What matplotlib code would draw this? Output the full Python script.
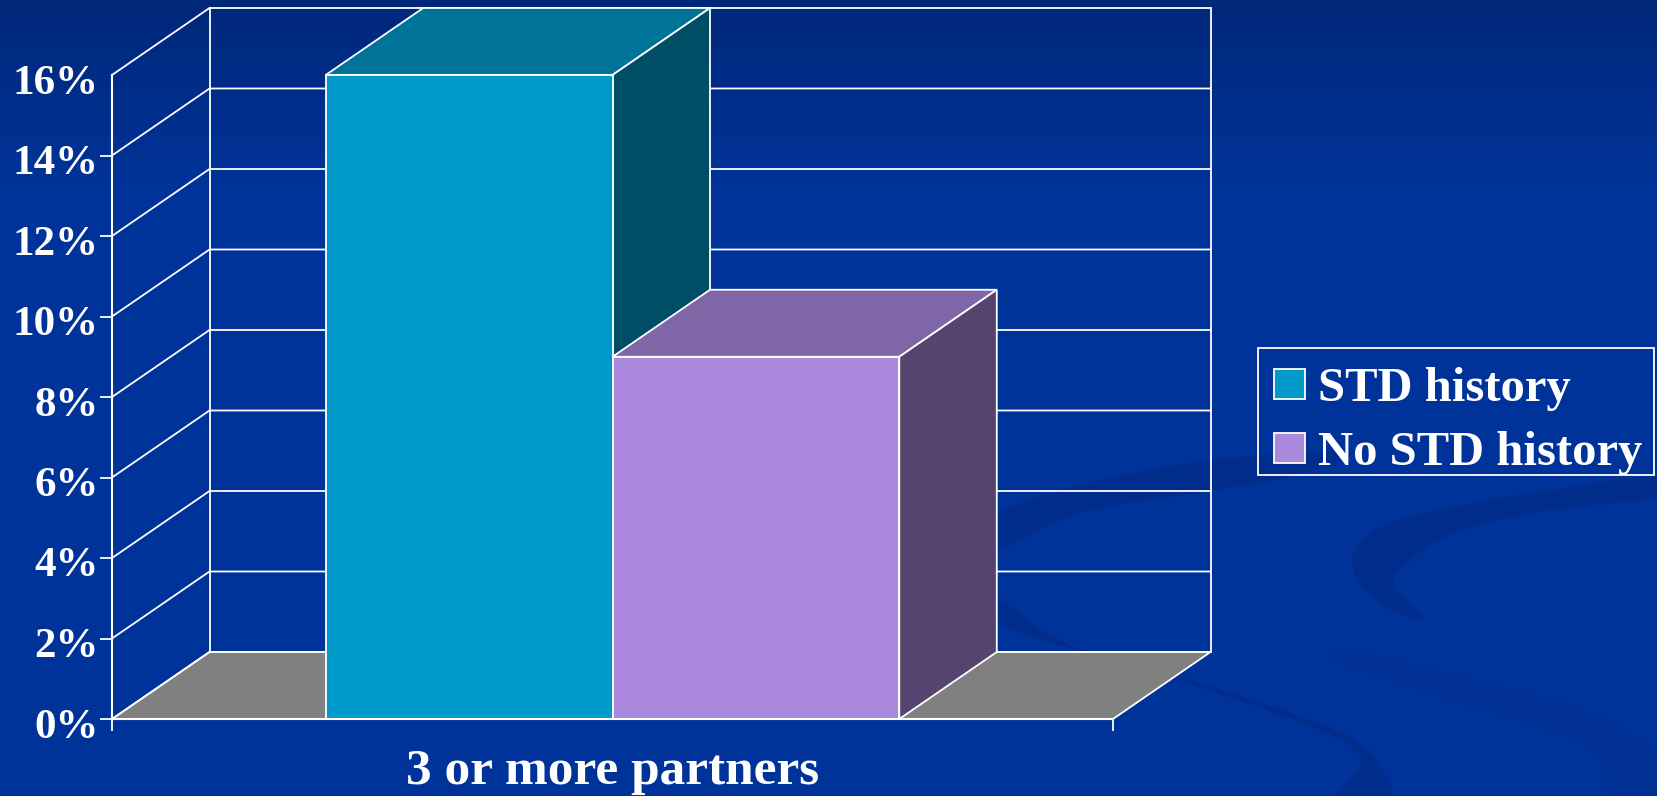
import matplotlib
matplotlib.use("Agg")
import matplotlib.pyplot as plt
import numpy as np
from matplotlib.patches import Polygon, Patch, Rectangle
from matplotlib.colors import to_rgb
from matplotlib.transforms import ScaledTranslation

plt.rcParams['font.family'] = ['Liberation Serif', 'DejaVu Serif']
plt.rcParams['font.weight'] = 'bold'

category = "3 or more partners"
series = ["STD history", "No STD history"]
values = [16.0, 9.0]
y_ticks = [0, 2, 4, 6, 8, 10, 12, 14, 16]

front_colors = ["#0099CC", "#AA88DD"]
top_colors = ["#007399", "#8066A6"]
side_colors = ["#004D66", "#554470"]

W, H = 1658, 796
bar_width = 0.2865
depth_x = 97.5 / 1001
depth_y = 67 / 40.25
line_w = 1.3


def smooth(points, n=14):
    # catmull-rom through the waypoints, closed
    p = np.array(points, dtype=float)
    out = []
    for i in range(len(p)):
        p0, p1, p2, p3 = p[i - 1], p[i], p[(i + 1) % len(p)], p[(i + 2) % len(p)]
        for t in np.linspace(0, 1, n, endpoint=False):
            out.append(0.5 * (2 * p1 + (p2 - p0) * t + (2 * p0 - 5 * p1 + 4 * p2 - p3) * t ** 2
                              + (3 * p1 - p0 - 3 * p2 + p3) * t ** 3))
    return np.array(out)


fig = plt.figure(figsize=(W / 100, H / 100), dpi=100)

# background slide: gradient and the faint swooshes
bg = fig.add_axes([0, 0, 1, 1], zorder=-1)
bg.set_xlim(0, W)
bg.set_ylim(H, 0)
bg.axis("off")
top_c, mid_c = np.array(to_rgb("#00287A")), np.array(to_rgb("#003399"))
f = np.interp(np.arange(H), [0, 190], [0, 1])[:, None, None]
grad = top_c[None, None, :] * (1 - f) + mid_c[None, None, :] * f
bg.imshow(grad, extent=(0, W, H, 0), aspect="auto", zorder=0)

swoosh_a = [(1658, 475), (1520, 495), (1420, 514), (1370, 533), (1352, 563), (1375, 600), (1423, 620),
            (1397, 590), (1400, 570), (1450, 535), (1540, 512), (1658, 498), (1680, 485)]
swoosh_b = [(1350, 452), (1210, 460), (1080, 485), (997, 513), (950, 545), (950, 570), (1000, 550),
            (1080, 513), (1210, 491), (1293, 476)]
swoosh_c = [(1000, 600), (1047, 633), (1090, 652), (1177, 676), (1283, 710), (1350, 737), (1380, 765),
            (1390, 800), (1335, 800), (1360, 765), (1345, 743), (1283, 716), (1177, 680), (1090, 654),
            (1047, 641), (1000, 623), (960, 590)]
swoosh_d = [(1330, 655), (1357, 652), (1450, 673), (1583, 710), (1658, 753), (1680, 800), (1613, 800),
            (1603, 763), (1550, 730), (1417, 690), (1345, 664)]
for pts, c in [(swoosh_a, "#002D8C"), (swoosh_b, "#002D8C"), (swoosh_c, "#002D8C"), (swoosh_d, "#003093")]:
    bg.add_patch(Polygon(smooth(pts), closed=True, fc=c, ec="none", zorder=1))
bg.set_xlim(0, W)
bg.set_ylim(H, 0)

# chart axes, front plane of the 3d box
ax = fig.add_axes([112 / W, (H - 719) / H, 1001 / W, 644 / H])
ax.patch.set_alpha(0)
ax.set_xlim(-0.5, 0.5)
ax.set_ylim(0, 16)
x0, x1 = ax.get_xlim()
ymax = y_ticks[-1]

# floor
ax.add_patch(Polygon([(x0, 0), (x1, 0), (x1 + depth_x, depth_y), (x0 + depth_x, depth_y)],
                     closed=True, fc="#808080", ec="white", lw=line_w, zorder=1, clip_on=False))

# walls and gridlines
for v in y_ticks:
    ax.plot([x0, x0 + depth_x, x1 + depth_x], [v, v + depth_y, v + depth_y],
            color="white", lw=line_w, zorder=2, clip_on=False)
ax.plot([x0 + depth_x] * 2, [depth_y, ymax + depth_y], color="white", lw=line_w, zorder=2, clip_on=False)
ax.plot([x1 + depth_x] * 2, [depth_y, ymax + depth_y], color="white", lw=line_w, zorder=2, clip_on=False)

# bars, front faces from ax.bar and the top/side faces offset by the depth
lefts = [-bar_width, 0]
for i, (name, val) in enumerate(zip(series, values)):
    l, r = lefts[i], lefts[i] + bar_width
    z = 3 + i
    ax.bar(l, val, width=bar_width, align="edge", color=front_colors[i], edgecolor="white",
           linewidth=line_w, zorder=z + 0.2, clip_on=False)
    ax.add_patch(Polygon([(l, val), (r, val), (r + depth_x, val + depth_y), (l + depth_x, val + depth_y)],
                         closed=True, fc=top_colors[i], ec="white", lw=line_w, zorder=z, clip_on=False))
    ax.add_patch(Polygon([(r, 0), (r, val), (r + depth_x, val + depth_y), (r + depth_x, depth_y)],
                         closed=True, fc=side_colors[i], ec="white", lw=line_w, zorder=z, clip_on=False))

for s in ["top", "right"]:
    ax.spines[s].set_visible(False)
for s in ["left", "bottom"]:
    ax.spines[s].set_color("white")
    ax.spines[s].set_linewidth(line_w + 0.2)
    ax.spines[s].set_zorder(8)

ax.set_yticks(y_ticks)
ax.set_yticklabels([f"{v}%" for v in y_ticks])
ax.set_xticks([x0, x1])
ax.set_xticklabels([])
ax.tick_params(axis="y", colors="white", length=8.6, width=line_w, pad=1, labelsize=31)
ax.tick_params(axis="x", colors="white", length=8.6, width=line_w)
ax.yaxis.get_major_ticks()[-1].tick1line.set_visible(False)
# labels sit a little under their ticks
shift = ScaledTranslation(0, -4 / 100, fig.dpi_scale_trans)
for lab in ax.get_yticklabels():
    lab.set_transform(lab.get_transform() + shift)
ax.set_xlabel(category, color="white", fontsize=37, fontweight="bold", labelpad=9.5)

# legend frame drawn by hand so the rows can sit where they do in the slide
ax.add_patch(Rectangle((1258 / W, (H - 475) / H), 396 / W, 127 / H, transform=fig.transFigure,
                       fc="none", ec="white", lw=line_w, clip_on=False, zorder=9))
handles = [Patch(facecolor=c, edgecolor="white", linewidth=line_w, label=s)
           for c, s in zip(front_colors, series)]
leg = ax.legend(handles=handles, loc="upper left", bbox_to_anchor=(1274 / W, (H - 367) / H),
                bbox_transform=fig.transFigure, fontsize=35, frameon=False, borderaxespad=0,
                borderpad=0, handlelength=0.64, handleheight=0.58, handletextpad=0.26, labelspacing=0.41)
for t in leg.get_texts():
    t.set_color("white")

fig.savefig("out.png", dpi=100)
